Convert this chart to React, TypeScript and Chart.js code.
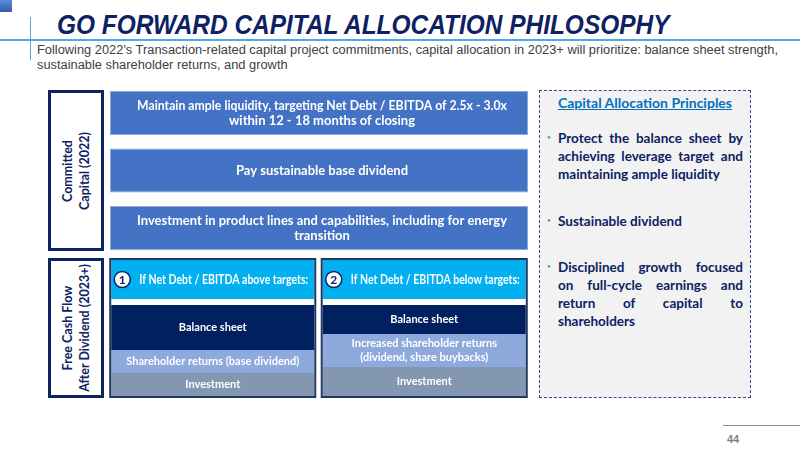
import { useEffect, useRef } from "react";
import { Chart, registerables } from "chart.js";

Chart.register(...registerables);

// committed capital (2022) - three full-width blocks
const committedLabels = [
    ["Maintain ample liquidity, targeting Net Debt / EBITDA of 2.5x - 3.0x", "within 12 - 18 months of closing"],
    ["Pay sustainable base dividend"],
    ["Investment in product lines and capabilities, including for energy", "transition"],
];
const committedShare = [1, 1, 1];

// free cash flow after dividend (2023+) - two scenario stacks
const scenarioNumbers = ["1", "2"];
const scenarioTitles = ["If Net Debt / EBITDA above targets:", "If Net Debt / EBITDA below targets:"];
const headerShare = [39, 39];
const gapShare = [6, 6];
const balanceShare = [45, 29];
const returnsShare = [23, 33];
const investmentShare = [23, 29];
const balanceLabels = [["Balance sheet"], ["Balance sheet"]];
const returnsLabels = [["Shareholder returns (base dividend)"], ["Increased shareholder returns", "(dividend, share buybacks)"]];
const investmentLabels = [["Investment"], ["Investment"]];

const NAVY = "#0D2163";
const FONT = "Lato, 'Open Sans', sans-serif";

function CommittedChart() {
    const canvasRef = useRef<HTMLCanvasElement | null>(null);
    const chartRef = useRef<Chart | null>(null);

    useEffect(() => {
        if (!canvasRef.current) return;
        if (chartRef.current) chartRef.current.destroy();

        const textPlugin = {
            id: "barText",
            afterDatasetsDraw(chart: any) {
                const ctx = chart.ctx;
                const meta = chart.getDatasetMeta(0);
                ctx.save();
                ctx.fillStyle = "#ffffff";
                ctx.font = "bold 13px " + FONT;
                ctx.textAlign = "center";
                ctx.textBaseline = "middle";
                meta.data.forEach((bar: any, i: number) => {
                    const lines = committedLabels[i];
                    const cx = (bar.x + bar.base) / 2 + 3;
                    const lh = 15;
                    const y0 = bar.y - ((lines.length - 1) * lh) / 2;
                    lines.forEach((t, j) => ctx.fillText(t, cx, y0 + j * lh, 370));
                });
                ctx.restore();
            },
        };

        chartRef.current = new Chart(canvasRef.current, {
            type: "bar",
            data: {
                labels: committedLabels.map((l) => l.join(" ")),
                datasets: [
                    {
                        data: committedShare,
                        backgroundColor: "#4472C4",
                        borderColor: "#8EA9DB",
                        borderWidth: 1,
                        borderSkipped: false,
                        barPercentage: 0.765,
                        categoryPercentage: 1,
                    },
                ],
            },
            options: {
                indexAxis: "y",
                responsive: false,
                animation: false,
                layout: { padding: 0 },
                scales: {
                    x: { display: false, min: 0, max: 1 },
                    y: { display: false },
                },
                plugins: { legend: { display: false }, tooltip: { enabled: false } },
            },
            plugins: [textPlugin],
        });

        return () => {
            if (chartRef.current) chartRef.current.destroy();
        };
    }, []);

    return (
        <canvas
            ref={canvasRef}
            width={418}
            height={173}
            style={{ position: "absolute", left: 110, top: 84, width: 418, height: 173 }}
        />
    );
}

function ScenarioChart() {
    const canvasRef = useRef<HTMLCanvasElement | null>(null);
    const chartRef = useRef<Chart | null>(null);

    useEffect(() => {
        if (!canvasRef.current) return;
        if (chartRef.current) chartRef.current.destroy();

        const segLabels: Record<number, string[][]> = {
            0: investmentLabels,
            1: returnsLabels,
            2: balanceLabels,
        };

        const textPlugin = {
            id: "stackText",
            afterDatasetsDraw(chart: any) {
                const ctx = chart.ctx;
                ctx.save();
                ctx.textBaseline = "middle";
                // segment labels
                ctx.fillStyle = "#ffffff";
                ctx.font = "bold 11px " + FONT;
                ctx.textAlign = "center";
                [0, 1, 2].forEach((d) => {
                    chart.getDatasetMeta(d).data.forEach((bar: any, i: number) => {
                        const lines = segLabels[d][i];
                        const cy = (bar.y + bar.base) / 2;
                        const lh = 14;
                        const y0 = cy - ((lines.length - 1) * lh) / 2;
                        lines.forEach((t, j) => ctx.fillText(t, bar.x, y0 + j * lh, 176));
                    });
                });
                // headers
                chart.getDatasetMeta(4).data.forEach((bar: any, i: number) => {
                    const left = bar.x - bar.width / 2;
                    const cy = (bar.y + bar.base) / 2;
                    ctx.beginPath();
                    ctx.arc(left + 11, cy, 8, 0, Math.PI * 2);
                    ctx.fillStyle = "#ffffff";
                    ctx.fill();
                    ctx.lineWidth = 1.5;
                    ctx.strokeStyle = NAVY;
                    ctx.stroke();
                    ctx.fillStyle = NAVY;
                    ctx.font = "bold 12px " + FONT;
                    ctx.textAlign = "center";
                    ctx.fillText(scenarioNumbers[i], left + 11, cy + 0.5);
                    ctx.fillStyle = "#ffffff";
                    ctx.textAlign = "left";
                    ctx.font = "bold 12.5px " + FONT;
                    ctx.fillText(scenarioTitles[i], left + 28, cy, bar.width - 34);
                });
                // outline around each column
                const top = chart.getDatasetMeta(4).data;
                ctx.strokeStyle = "#1F3864";
                ctx.lineWidth = 2;
                top.forEach((bar: any) => {
                    const left = bar.x - bar.width / 2;
                    ctx.strokeRect(left - 1, bar.y - 1, bar.width + 2, chart.chartArea.bottom - bar.y + 2);
                });
                ctx.restore();
            },
        };

        const common = { barPercentage: 0.96, categoryPercentage: 1, borderWidth: 0 };

        chartRef.current = new Chart(canvasRef.current, {
            type: "bar",
            data: {
                labels: scenarioTitles,
                datasets: [
                    { label: "Investment", data: investmentShare, backgroundColor: "#8497B0", ...common },
                    { label: "Shareholder returns", data: returnsShare, backgroundColor: "#8EA9DB", ...common },
                    { label: "Balance sheet", data: balanceShare, backgroundColor: "#002060", ...common },
                    { label: "", data: gapShare, backgroundColor: "#ffffff", ...common },
                    { label: "Scenario", data: headerShare, backgroundColor: "#00B0F0", ...common },
                ],
            },
            options: {
                responsive: false,
                animation: false,
                layout: { padding: { top: 2, bottom: 2, left: 0, right: 0 } },
                scales: {
                    x: { display: false, stacked: true },
                    y: { display: false, stacked: true, min: 0, max: 136 },
                },
                plugins: { legend: { display: false }, tooltip: { enabled: false } },
            },
            plugins: [textPlugin],
        });

        return () => {
            if (chartRef.current) chartRef.current.destroy();
        };
    }, []);

    return (
        <canvas
            ref={canvasRef}
            width={423}
            height={140}
            style={{ position: "absolute", left: 107, top: 258, width: 423, height: 140 }}
        />
    );
}

function SideLabel({ top, height, lines }: { top: number; height: number; lines: string[] }) {
    return (
        <div
            style={{
                position: "absolute",
                left: 48,
                top,
                width: 56,
                height,
                boxSizing: "border-box",
                border: "3px solid " + NAVY,
                display: "flex",
                alignItems: "center",
                justifyContent: "center",
            }}
        >
            <div
                style={{
                    transform: "rotate(-90deg)",
                    whiteSpace: "nowrap",
                    textAlign: "center",
                    font: "bold 12.5px " + FONT,
                    lineHeight: "17px",
                    color: NAVY,
                }}
            >
                {lines.map((l) => (
                    <div key={l}>{l}</div>
                ))}
            </div>
        </div>
    );
}

function JustLines({ top, lines }: { top: number; lines: string[] }) {
    return (
        <div style={{ position: "absolute", left: 547, top, width: 196 }}>
            <div style={{ position: "absolute", left: 0, top: -1, color: "#6F7FA0", fontSize: 11, lineHeight: "18px" }}>•</div>
            {lines.map((l, i) => (
                <div
                    key={l}
                    style={{
                        marginLeft: 11,
                        whiteSpace: "nowrap",
                        textAlign: "justify",
                        textAlignLast: i < lines.length - 1 ? "justify" : "left",
                        font: "bold 13.5px " + FONT,
                        lineHeight: "18px",
                        color: NAVY,
                    }}
                >
                    {l}
                </div>
            ))}
        </div>
    );
}

export default function App() {
    return (
        <div
            style={{
                position: "absolute",
                left: 0,
                top: 0,
                width: 800,
                height: 450,
                overflow: "hidden",
                background: "#ffffff",
            }}
        >
            <div style={{ position: "absolute", left: 0, top: 0, width: 12, height: 12, background: "linear-gradient(#5B8BD9, #2F5BB0)" }} />
            <div style={{ position: "absolute", left: 0, top: 39, width: 800, height: 2, background: "#4FA8E8" }} />
            <div style={{ position: "absolute", left: 30, top: 17, width: 1, height: 43, background: "#4FA8E8" }} />
            <div
                style={{
                    position: "absolute",
                    left: 57,
                    top: 11,
                    whiteSpace: "nowrap",
                    font: "italic bold 28px 'Liberation Sans', Arial, sans-serif",
                    lineHeight: "28px",
                    color: NAVY,
                    transform: "scaleX(0.873)",
                    transformOrigin: "left top",
                }}
            >
                GO FORWARD CAPITAL ALLOCATION PHILOSOPHY
            </div>
            <div
                style={{
                    position: "absolute",
                    left: 37,
                    top: 42,
                    whiteSpace: "nowrap",
                    font: "12.85px 'Liberation Sans', Arial, sans-serif",
                    lineHeight: "15px",
                    color: "#404040",
                }}
            >
                Following 2022's Transaction-related capital project commitments, capital allocation in 2023+ will prioritize: balance sheet strength,
                <br />
                sustainable shareholder returns, and growth
            </div>

            <SideLabel top={90} height={161} lines={["Committed", "Capital (2022)"]} />
            <SideLabel top={258} height={140} lines={["Free Cash Flow", "After Dividend (2023+)"]} />

            <CommittedChart />
            <ScenarioChart />

            <div
                style={{
                    position: "absolute",
                    left: 539,
                    top: 90,
                    width: 212,
                    height: 308,
                    boxSizing: "border-box",
                    border: "1.5px dashed #2F4B8C",
                    background: "#F2F2F2",
                }}
            />
            <div
                style={{
                    position: "absolute",
                    left: 539,
                    top: 94,
                    width: 212,
                    textAlign: "center",
                    font: "bold 14px " + FONT,
                    lineHeight: "18px",
                    color: "#0070C0",
                    textDecoration: "underline",
                }}
            >
                Capital Allocation Principles
            </div>
            <JustLines top={129} lines={["Protect the balance sheet by", "achieving leverage target and", "maintaining ample liquidity"]} />
            <JustLines top={212} lines={["Sustainable dividend"]} />
            <JustLines top={258} lines={["Disciplined growth focused", "on full-cycle earnings and", "return of capital to", "shareholders"]} />

            <div style={{ position: "absolute", left: 723, top: 425, width: 77, height: 1, background: "#8C8C8C" }} />
            <div
                style={{
                    position: "absolute",
                    left: 727,
                    top: 433,
                    font: "bold 11px 'Liberation Sans', Arial, sans-serif",
                    color: "#7F7F7F",
                }}
            >
                44
            </div>
        </div>
    );
}
